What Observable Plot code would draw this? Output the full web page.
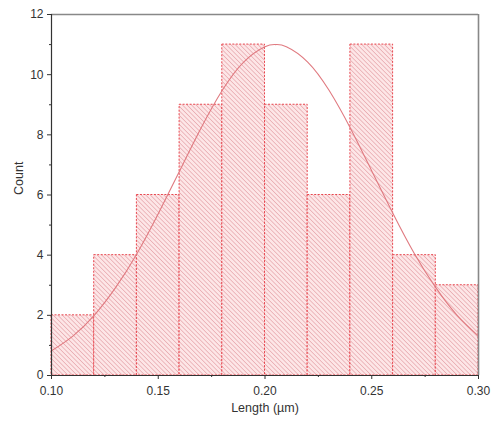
<!DOCTYPE html>
<html>
<head>
<meta charset="utf-8">
<script src="https://cdn.jsdelivr.net/npm/d3@7"></script>
<script src="https://cdn.jsdelivr.net/npm/@observablehq/plot@0.6"></script>
<style>
  html, body { margin: 0; padding: 0; background: #fff; }
  #chart { width: 492px; height: 430px; }
</style>
</head>
<body>
<div id="chart"></div>
<script>
// Histogram bins (length in µm) and counts
const binStart = [0.10, 0.12, 0.14, 0.16, 0.18, 0.20, 0.22, 0.24, 0.26, 0.28];
const binEnd   = [0.12, 0.14, 0.16, 0.18, 0.20, 0.22, 0.24, 0.26, 0.28, 0.30];
const counts   = [2, 4, 6, 9, 11, 9, 6, 11, 4, 3];

// Fitted curve
const fitX = [0.10, 0.11, 0.12, 0.13, 0.14, 0.15, 0.16, 0.17, 0.18, 0.19, 0.20, 0.205, 0.21, 0.22, 0.23, 0.24, 0.25, 0.26, 0.27, 0.28, 0.29, 0.30];
const fitY = [0.82, 1.31, 2.0, 2.92, 4.05, 5.38, 6.8, 8.22, 9.48, 10.42, 10.93, 11.0, 10.93, 10.42, 9.48, 8.22, 6.8, 5.38, 4.05, 2.92, 2.0, 1.31];

// Tick values
const xMajor = [0.10, 0.15, 0.20, 0.25, 0.30];
const xMinor = [0.125, 0.175, 0.225, 0.275];
const yMajor = [0, 2, 4, 6, 8, 10, 12];
const yMinor = [1, 3, 5, 7, 9, 11];

const bars = binStart.map((x1, i) => ({x1, x2: binEnd[i], y: counts[i]}));
const fit = fitX.map((x, i) => ({x, y: fitY[i]}));

const font = "'Liberation Sans', Arial, sans-serif";

const svg = Plot.plot({
  width: 492,
  height: 430,
  marginLeft: 51,
  marginRight: 14,
  marginTop: 14,
  marginBottom: 55,
  style: {fontFamily: font, fontSize: "12px", color: "#333", background: "#fff"},
  x: {domain: [0.10, 0.30], label: null, axis: null},
  y: {domain: [0, 12], label: null, axis: null},
  marks: [
    Plot.rectY(bars, {x1: "x1", x2: "x2", y: "y", fill: "url(#hatch)", stroke: "#e8474f", strokeWidth: 1, strokeDasharray: "2,1.5", inset: 0}),
    Plot.line(fit, {x: "x", y: "y", curve: "natural", stroke: "#e07a80", strokeWidth: 1.1}),
    // frame top & right
    Plot.ruleY([12], {stroke: "#888", strokeWidth: 1.6}),
    Plot.ruleX([0.30], {stroke: "#888", strokeWidth: 1.6}),
    // axes lines
    Plot.ruleY([0], {stroke: "#333", strokeWidth: 1.2}),
    Plot.ruleX([0.10], {stroke: "#333", strokeWidth: 1.2}),
    Plot.axisX(xMajor, {tickSize: 4, tickFormat: d3.format(".2f"), tickPadding: 7, fill: "#333", stroke: "#333", fontSize: 12}),
    Plot.axisX(xMinor, {tickSize: 2, tickFormat: () => "", stroke: "#333"}),
    Plot.axisY(yMajor, {tickSize: 4, tickFormat: d3.format("d"), tickPadding: 4, fill: "#333", stroke: "#333", fontSize: 12}),
    Plot.axisY(yMinor, {tickSize: 2, tickFormat: () => "", stroke: "#333"}),
    Plot.text(["Length (µm)"], {frameAnchor: "bottom", dy: 28, fontSize: 12.5, fill: "#333", textAnchor: "middle", lineAnchor: "top"}),
    Plot.text(["Count"], {frameAnchor: "left", dx: -33, rotate: -90, fontSize: 12.5, fill: "#333"})
  ]
});

// hatch pattern definition
const ns = "http://www.w3.org/2000/svg";
const defs = document.createElementNS(ns, "defs");
defs.innerHTML = `
  <pattern id="hatch" patternUnits="userSpaceOnUse" width="3.2" height="3.2" patternTransform="rotate(-45)">
    <rect width="3.2" height="3.2" fill="#fde6e7"></rect>
    <line x1="0" y1="0" x2="0" y2="3.2" stroke="#e0959b" stroke-width="1.1"></line>
  </pattern>`;
svg.insertBefore(defs, svg.firstChild);
document.getElementById("chart").appendChild(svg);
</script>
</body>
</html>
